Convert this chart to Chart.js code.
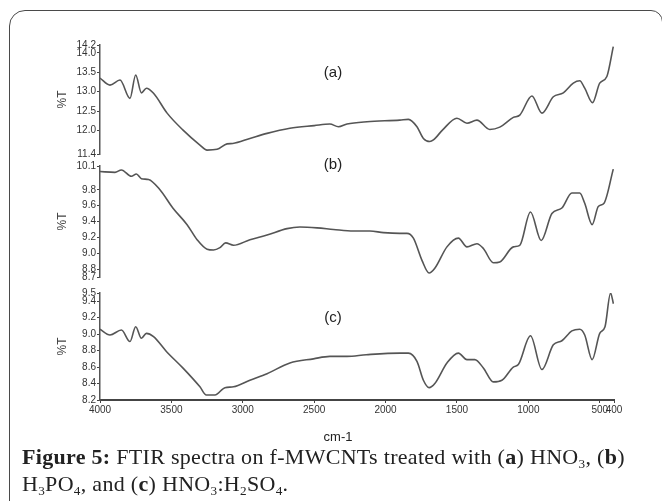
<!DOCTYPE html>
<html>
<head>
<meta charset="utf-8">
<script src="https://cdn.jsdelivr.net/npm/chart.js@4.4.1/dist/chart.umd.min.js"></script>
<style>
  html, body { margin: 0; padding: 0; background: #fff; width: 662px; height: 501px; overflow: hidden; }
  .frame { position: absolute; left: 9px; top: 10px; width: 652px; height: 530px; border: 1.5px solid #4a4a4a; border-radius: 16px 12px 0 0; }
  canvas { position: absolute; left: 0; }
  .caption { position: absolute; left: 22px; top: 443px; font-family: 'Liberation Serif', 'Times New Roman', serif; font-size: 22px; letter-spacing: 0.3px; line-height: 27px; color: #222; white-space: nowrap; }
  .caption sub { font-size: 0.6em; vertical-align: -0.3em; line-height: 0; }
</style>
</head>
<body>
<div class="frame"></div>
<canvas id="panel-a" width="662" height="135" style="top:30px"></canvas>
<canvas id="panel-b" width="662" height="135" style="top:155px"></canvas>
<canvas id="panel-c" width="662" height="172" style="top:280px"></canvas>
<div class="caption"><b>Figure 5:</b> FTIR spectra on f-MWCNTs treated with (<b>a</b>) HNO<sub>3</sub>, (<b>b</b>)<br>H<sub>3</sub>PO<sub>4</sub>, and (<b>c</b>) HNO<sub>3</sub>:H<sub>2</sub>SO<sub>4</sub>.</div>
<script>
// wavenumber ticks shared by all three spectra
const xTicks = [4000, 3500, 3000, 2500, 2000, 1500, 1000, 500, 400]

// (a) HNO3
const wnA = [4000, 3930, 3860, 3790, 3750, 3710, 3675, 3625, 3530, 3420, 3300, 3250, 3180, 3110, 3070, 2950, 2830, 2670, 2500, 2390, 2330, 2270, 2130, 1900, 1840, 1780, 1735, 1690, 1665, 1600, 1500, 1430, 1360, 1270, 1200, 1105, 1060, 975, 905, 825, 755, 685, 640, 605, 550, 500, 450, 405]
const tA = [13.35, 13.17, 13.30, 12.83, 13.43, 12.97, 13.09, 12.96, 12.45, 12.02, 11.63, 11.50, 11.52, 11.66, 11.67, 11.80, 11.93, 12.06, 12.13, 12.17, 12.10, 12.17, 12.23, 12.27, 12.29, 12.10, 11.80, 11.72, 11.76, 12.02, 12.32, 12.19, 12.27, 12.03, 12.09, 12.34, 12.40, 12.89, 12.45, 12.87, 12.97, 13.22, 13.28, 13.09, 12.72, 13.22, 13.39, 14.16]
const ticksA = [14.2, 14.0, 13.5, 13.0, 12.5, 12.0, 11.4]

// (b) H3PO4
const wnB = [4000, 3895, 3850, 3780, 3745, 3710, 3660, 3580, 3490, 3390, 3320, 3250, 3205, 3160, 3120, 3065, 2950, 2830, 2690, 2600, 2480, 2365, 2225, 2110, 2015, 1900, 1850, 1805, 1745, 1695, 1655, 1570, 1490, 1430, 1360, 1315, 1245, 1200, 1105, 1060, 985, 910, 835, 765, 695, 640, 605, 553, 510, 470, 405]
const tB = [10.03, 10.02, 10.05, 9.97, 10.00, 9.94, 9.93, 9.80, 9.57, 9.36, 9.17, 9.05, 9.04, 9.07, 9.13, 9.10, 9.17, 9.23, 9.31, 9.33, 9.32, 9.30, 9.28, 9.28, 9.26, 9.25, 9.25, 9.19, 8.91, 8.75, 8.81, 9.08, 9.19, 9.08, 9.12, 9.06, 8.88, 8.89, 9.08, 9.10, 9.52, 9.16, 9.50, 9.57, 9.76, 9.76, 9.63, 9.36, 9.59, 9.63, 10.06]
const ticksB = [10.1, 9.8, 9.6, 9.4, 9.2, 9.0, 8.8, 8.7]

// (c) HNO3:H2SO4
const wnC = [4000, 3930, 3850, 3790, 3750, 3710, 3675, 3625, 3535, 3420, 3300, 3255, 3195, 3125, 3065, 2950, 2830, 2670, 2505, 2390, 2270, 2135, 1900, 1840, 1780, 1735, 1695, 1655, 1570, 1490, 1430, 1375, 1315, 1245, 1185, 1105, 1070, 985, 905, 825, 765, 695, 640, 605, 553, 500, 463, 424, 404]
const tC = [9.06, 8.99, 9.05, 8.91, 9.09, 8.95, 9.01, 8.97, 8.79, 8.59, 8.36, 8.26, 8.26, 8.35, 8.36, 8.44, 8.52, 8.65, 8.70, 8.73, 8.73, 8.75, 8.77, 8.77, 8.67, 8.44, 8.35, 8.40, 8.65, 8.77, 8.69, 8.69, 8.59, 8.42, 8.44, 8.60, 8.63, 8.98, 8.57, 8.87, 8.92, 9.04, 9.06, 8.99, 8.69, 9.01, 9.09, 9.50, 9.37]
const ticksC = [9.5, 9.4, 9.2, 9.0, 8.8, 8.6, 8.4, 8.2]

const narrow = "'Liberation Sans Narrow', 'Arial Narrow', 'Liberation Sans', Arial, sans-serif"
const sans = "'Liberation Sans', Arial, sans-serif"

// writes the (a)/(b)/(c) tag inside each panel, and the axis unit under the last one
const tagPlugin = {
    id: 'tag',
    afterDraw(chart, args, opts) {
        const { ctx, chartArea } = chart
        ctx.save()
        ctx.fillStyle = '#222'
        ctx.textAlign = 'center'
        ctx.textBaseline = 'middle'
        ctx.font = '15px ' + sans
        ctx.fillText(opts.text, chartArea.left + opts.dx, chartArea.top + opts.dy)
        if (opts.unit) {
            ctx.font = '13px ' + sans
            ctx.fillText(opts.unit, chartArea.left + 238, chartArea.bottom + 37)
        }
        ctx.restore()
    }
}

function makePanel(id, wn, t, yTicks, tag, tagY, padTop, padBottom, showX) {
    new Chart(document.getElementById(id).getContext('2d'), {
        type: 'line',
        data: {
            datasets: [{
                data: wn.map((w, i) => ({ x: w, y: t[i] })),
                borderColor: '#555',
                borderWidth: 1.6,
                pointRadius: 0,
                cubicInterpolationMode: 'monotone',
                fill: false
            }]
        },
        plugins: [tagPlugin],
        options: {
            responsive: false,
            animation: false,
            devicePixelRatio: 1,
            layout: { padding: { left: 51, right: 48, top: padTop, bottom: padBottom } },
            plugins: {
                legend: { display: false },
                tooltip: { enabled: false },
                tag: { text: tag, dx: 233, dy: tagY, unit: showX ? 'cm-1' : null }
            },
            scales: {
                x: {
                    type: 'linear',
                    reverse: true,
                    min: 400,
                    max: 4000,
                    display: showX,
                    afterBuildTicks: s => { s.ticks = xTicks.map(v => ({ value: v })) },
                    afterFit: s => { s.height = showX ? 49 : 0 },
                    ticks: { autoSkip: false, maxRotation: 0, font: { family: narrow, size: 10 }, color: '#333', padding: 1, callback: v => String(v) },
                    grid: { drawOnChartArea: false, tickLength: 3, color: '#444' },
                    border: { color: '#444', width: 2 }
                },
                y: {
                    type: 'linear',
                    min: yTicks[yTicks.length - 1],
                    max: yTicks[0],
                    afterBuildTicks: s => { s.ticks = yTicks.map(v => ({ value: v })) },
                    afterFit: s => { s.width = 49 },
                    ticks: { autoSkip: false, font: { family: narrow, size: 10 }, color: '#333', padding: 1, callback: v => v.toFixed(1) },
                    grid: { drawOnChartArea: false, tickLength: 3, color: '#444' },
                    border: { color: '#555', width: 1.5 },
                    title: { display: true, text: '%T', font: { family: sans, size: 12 }, color: '#444' }
                }
            }
        }
    })
}

makePanel('panel-a', wnA, tA, ticksA, '(a)', 28, 15, 11, false)
makePanel('panel-b', wnB, tB, ticksB, '(b)', -1, 11, 13, false)
makePanel('panel-c', wnC, tC, ticksC, '(c)', 25, 13, 3, true)
</script>
</body>
</html>
